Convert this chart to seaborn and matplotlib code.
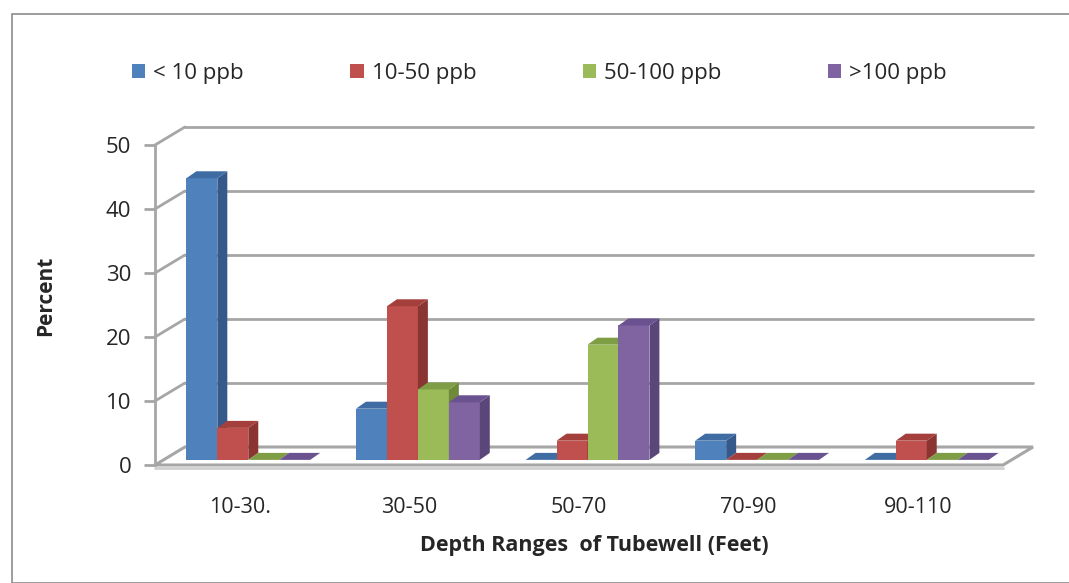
import pandas as pd
import matplotlib.pyplot as plt
import matplotlib.colors as mcolors
import seaborn as sns
from matplotlib.patches import Polygon, Patch, Rectangle

# Data
depth_ranges = ['10-30.', '30-50', '50-70', '70-90', '90-110']
series_names = ['< 10 ppb', '10-50 ppb', '50-100 ppb', '>100 ppb']
lt_10 = [44, 8, 0, 3, 0]
p10_50 = [5, 24, 3, 0, 3]
p50_100 = [0, 11, 18, 0, 0]
gt_100 = [0, 9, 21, 0, 0]

colors = ['#4F81BD', '#C0504D', '#9BBB59', '#8064A2']
side_colors = ['#35598A', '#8A3532', '#6E8A3A', '#5A4679']
top_colors = ['#3F6DA3', '#A43F3C', '#7E9D44', '#6A5290']

df = pd.DataFrame({
    'depth': depth_ranges * 4,
    'series': sum([[s] * 5 for s in series_names], []),
    'percent': lt_10 + p10_50 + p50_100 + gt_100,
})

sns.set_style('white')
plt.rcParams['font.family'] = ['Open Sans', 'DejaVu Sans']

fig = plt.figure(figsize=(10.69, 5.83), dpi=100)
ax = fig.add_axes([155 / 1069, (583 - 465) / 583, 878 / 1069, 338 / 583])

sns.barplot(data=df, x='depth', y='percent', hue='series', palette=colors,
            width=0.73, saturation=1, legend=False, ax=ax, edgecolor='none')
bars = sorted([p for p in ax.patches if isinstance(p, Rectangle)], key=lambda p: p.get_x())

# 3D look: wall offsets (data units)
bdx, bdy = 30 / 170, 18 / 6.4     # back wall
sdx, sdy = 10 / 170, 7 / 6.4      # bar depth
ox, oy = 0.05, 0.8                # bar placement inside depth

grid_c = '#A6A6A6'
ticks = [0, 10, 20, 30, 40, 50]
for v in ticks[1:]:
    ax.plot([-0.5, -0.5 + bdx], [v, v + bdy], color=grid_c, lw=2, zorder=1, clip_on=False)
    ax.plot([-0.5 + bdx, 4.5 + bdx], [v + bdy, v + bdy], color=grid_c, lw=2, zorder=1, clip_on=False)

# floor slab
floor = Polygon([(-0.5, 0), (4.5, 0), (4.5 + bdx, bdy), (-0.5 + bdx, bdy)],
                closed=True, facecolor='white', edgecolor=grid_c, lw=2.2, zorder=1.5, clip_on=False)
ax.add_patch(floor)
ax.plot([-0.5, 4.5], [-0.45, -0.45], color='#D0D0D0', lw=2, zorder=1.4, clip_on=False)

# bars -> shift and add side/top faces
z = 3
for b in bars:
    fc = b.get_facecolor()
    idx = min(range(4), key=lambda i: sum(abs(a - c) for a, c in zip(fc[:3], mcolors.to_rgb(colors[i]))))
    h = b.get_height()
    b.set_x(b.get_x() + ox)
    b.set_y(oy)
    b.set_zorder(z)
    x0, x1 = b.get_x(), b.get_x() + b.get_width()
    y0, y1 = oy, oy + h
    side = Polygon([(x1, y0), (x1 + sdx, y0 + sdy), (x1 + sdx, y1 + sdy), (x1, y1)],
                   closed=True, facecolor=side_colors[idx], edgecolor='none', zorder=z + 0.1)
    top = Polygon([(x0, y1), (x0 + sdx, y1 + sdy), (x1 + sdx, y1 + sdy), (x1, y1)],
                  closed=True, facecolor=top_colors[idx], edgecolor='none', zorder=z + 0.2)
    ax.add_patch(side)
    ax.add_patch(top)
    z += 1

ax.set_xlim(-0.5, 4.5 + bdx)
ax.set_ylim(0, 50 + bdy)
for s in ['top', 'right', 'bottom']:
    ax.spines[s].set_visible(False)
ax.spines['left'].set_bounds(0, 50)
ax.spines['left'].set_color(grid_c)
ax.spines['left'].set_linewidth(2)
ax.set_yticks(ticks)
ax.set_yticklabels([str(t) for t in ticks], fontsize=16)
ax.tick_params(axis='y', left=True, length=8, width=2, color=grid_c, pad=9)
ax.set_xticks(range(5))
ax.set_xticklabels(depth_ranges, fontsize=15.5)
ax.tick_params(axis='x', length=0, pad=23)
ax.set_xlabel('Depth Ranges  of Tubewell (Feet)', fontsize=15.5, fontweight='bold', labelpad=12)
ax.set_ylabel('Percent', fontsize=15, fontweight='bold', labelpad=36)

handles = [Patch(facecolor=c, edgecolor='none') for c in colors]
fig.legend(handles, series_names, loc='center left', bbox_to_anchor=(132 / 1069, 1 - 73 / 583),
           ncol=4, frameon=False, fontsize=16, handlelength=0.6, handleheight=0.6,
           handletextpad=0.35, columnspacing=4.8, borderpad=0, borderaxespad=0)

fig.patches.append(Rectangle((12 / 1069, 0), 1.2, 1 - 14 / 583, transform=fig.transFigure,
                             facecolor='none', edgecolor='#8C8C8C', lw=1.2, zorder=0))

fig.savefig('out.png', dpi=100, facecolor='white')
